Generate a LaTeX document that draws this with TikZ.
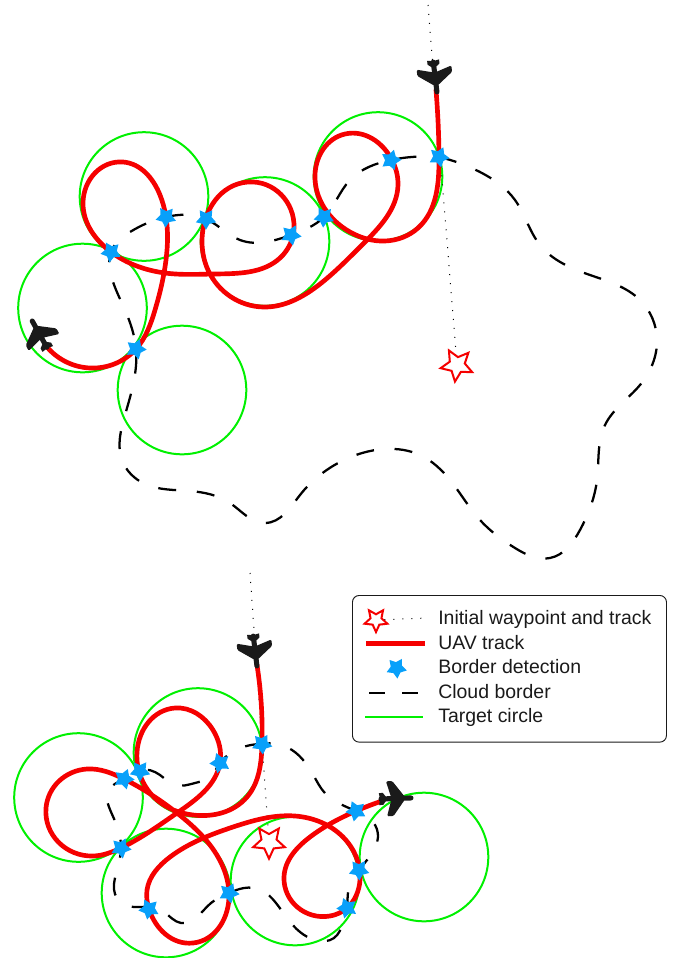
\documentclass[tikz,border=0pt]{standalone}
\usepackage{fontspec}
\setmainfont{Liberation Sans}
\usetikzlibrary{shapes.geometric,positioning,hobby}

\definecolor{trackred}{RGB}{245,0,0}
\definecolor{circlegreen}{RGB}{0,240,0}
\definecolor{detectblue}{RGB}{8,160,250}
\definecolor{planeblack}{RGB}{26,26,26}

\tikzset{
    uavplane/.pic={
        \draw[planeblack, line width=3.8pt, line cap=round] (-14,0) -- (16,0);
        \fill[planeblack] (9,-2.5) -- (-1,-16) [rounded corners=1pt] -- (-2,-17.5) -- (-8.5,-17.5) -- (-4,-2) -- (-4,2) -- (-8.5,17.5) -- (-2,17.5) [sharp corners] -- (-1,16) -- (9,2.5) -- cycle;
        \fill[planeblack] (-9,-2) -- (-12,-6) -- (-16,-6) -- (-15,0) -- (-16,6) -- (-12,6) -- (-9,2) -- cycle;
    }
}

\begin{document}
\begin{tikzpicture}[x=0.75pt, y=-0.75pt, use Hobby shortcut]
    % Define style for the tracks and markers
    \tikzstyle{track} = [draw=trackred, line width=3.5pt, line cap=round, line join=round]
    \tikzstyle{cloud} = [draw=black, line width=1.7pt, dash pattern=on 13.5pt off 15.5pt]
    \tikzstyle{target} = [draw=circlegreen, line width=1.5pt]
    \tikzstyle{initial} = [draw=black, line width=0.75pt, dash pattern=on 0.75pt off 6pt]
    \tikzstyle{detect} = [star, star points=5, star point ratio=1.8, minimum size=16pt, inner sep=0pt, fill=detectblue]
    \tikzstyle{waypoint} = [star, star points=5, star point ratio=2.1, minimum size=25pt, inner sep=0pt, draw=trackred, line width=1.5pt, fill=white]
    \tikzstyle{legendtext} = [anchor=west, inner sep=0pt, text height=10pt, text depth=3pt, text=planeblack, font=\fontsize{14.6pt}{17pt}\selectfont]

    \useasboundingbox (0,0) rectangle (675,958);

    % Target circles, upper run
    \foreach \cx/\cy [count=\i] in {144/196.5, 82.5/308, 182/390, 265/241.5, 378/176.5} {
        \draw[target] (\cx,\cy) circle (64.3);
    }
    % Target circles, lower run
    \foreach \cx/\cy [count=\i] in {78.5/797.5, 198/752.5, 166/893, 295/881, 424/857} {
        \draw[target] (\cx,\cy) circle (64.3);
    }

    % Cloud borders
    \draw[cloud] (439,157) .. (480,172) .. (515,200) .. (540,245) .. (590,275) .. (640,300)
        .. (657,340) .. (640,385) .. (605,425) .. (597,480) .. (580,530) .. (550,558) .. (515,548) .. (480,520) .. (450,480)
        .. (420,455) .. (385,449) .. (340,462) .. (300,495) .. (265,523) .. (230,503) .. (190,491) .. (145,484) .. (122,460)
        .. (125,415) .. (136,349) .. (125,310) .. (110,270) .. (111,252) .. (130,232) .. (166,217) .. (206,219) .. (240,240)
        .. (291,235) .. (324,217) .. (350,180) .. (391,160) .. (439,157);
    \draw[cloud, dash phase=7pt] (262,744) .. (292,750) .. (315,778) .. (324,792) .. (356,811) .. (373,822) .. (378,837) .. (370,856) .. (359,870)
        .. (349,887) .. (347,908) .. (343,923) .. (334,938) .. (315,940) .. (300,932) .. (276,903) .. (261,890) .. (244,888) .. (229,893)
        .. (211,903) .. (197,917) .. (181,923) .. (164,912) .. (150,907) .. (128,906) .. (115,894) .. (116,874) .. (121,848)
        .. (117,826) .. (109,807) .. (108,791) .. (124,779) .. (140,770) .. (160,775) .. (175,785) .. (195,783) .. (210,777)
        .. (220,763) .. (236,750) .. (262,744);

    % Initial waypoints and their tracks
    \node[waypoint, rotate=173] (startA) at (457,365) {};
    \node[waypoint, rotate=180] (startB) at (269,842) {};
    \coordinate (entryA) at (428,5);
    \coordinate (entryB) at (250,573);
    \draw[initial] (entryA) -- (startA);
    \draw[initial] (entryB) -- (startB);

    % UAV tracks
    \draw[track] (436,90) .. (439,157) .. (418,228) .. (385,241) .. (350,232)
        .. (315,175) .. (345,134) .. (392,160) .. (398,185) .. (362,245)
        .. (325,280) .. (263,307) .. (208,270) .. (202,240) .. (248,182)
        .. (294,228) .. (280,258) .. (215,274) .. (165,273) .. (111,252)
        .. (83,203) .. (123,162) .. (160,195) .. (166,217) .. (166,260)
        .. (155,310) .. (136,349) .. (90,368) .. (47,347);
    \draw[track] (257,665) .. (262,744) .. (247,797) .. (193,815) .. (157,800)
        .. (137,752) .. (175,708) .. (213,730) .. (220,763) .. (177,813)
        .. (121,848) .. (93,856) .. (46,808) .. (87,769) .. (124,779)
        .. (177,813) .. (223,867) .. (229,893) .. (193,943) .. (149,909)
        .. (147,890) .. (170,857) .. (233,827) .. (295,816) .. (343,837)
        .. (360,880) .. (347,908) .. (330,916) .. (284,877) .. (310,837)
        .. (356,811) .. (382,801);

    % Border detections
    \foreach \px/\py/\ang [count=\i] in {439/157/12, 391/160/20, 324/217/-5, 291/235/10, 206/219/0, 166/217/-3, 111/252/-8, 136/349/15,
        262/744/5, 220/763/-15, 140/771/0, 124/779/15, 121/848/10, 149/909/-10, 229/893/12, 347/908/-15, 359/870/2, 356/811/-12} {
        \node[detect, rotate=180+\ang] (detect\i) at (\px,\py) {};
    }

    % Aircraft
    \pic[rotate=-83] at (435,76) {uavplane};
    \pic[rotate=119] at (40,335) {uavplane};
    \pic[rotate=-83] at (255,650) {uavplane};
    \pic[rotate=2] at (395,798.5) {uavplane};

    % Legend
    \node[draw=planeblack, line width=0.7pt, rounded corners=5pt, minimum width=235.5pt, minimum height=110pt, inner sep=0pt, anchor=north west] (legend) at (352,595) {};
    \node[legendtext] (itemA) at (438,620.3) {Initial waypoint and track};
    \node[legendtext] (itemB) at (438,644.8) {UAV track};
    \node[legendtext] (itemC) at (438,669.3) {Border detection};
    \node[legendtext] (itemD) at (438,693.8) {Cloud border};
    \node[legendtext] (itemE) at (438,718.2) {Target circle};
    \node[waypoint, rotate=180, minimum size=18pt] (keyA) at (376,620) {};
    \node[detect, rotate=185] (keyC) at (396.5,668) {};
    \coordinate (keyAend) at (427,618);
    \coordinate (keyBa) at (366,643.5);
    \coordinate (keyBb) at (425,643.5);
    \coordinate (keyDa) at (369,693);
    \coordinate (keyDb) at (419,693);
    \coordinate (keyEa) at (365,716.5);
    \coordinate (keyEb) at (423,716.5);
    \draw[initial] (keyA) -- (keyAend);
    \draw[track, line cap=butt] (keyBa) -- (keyBb);
    \draw[cloud, dash pattern=on 12pt off 13pt] (keyDa) -- (keyDb);
    \draw[target] (keyEa) -- (keyEb);
\end{tikzpicture}
\end{document}
